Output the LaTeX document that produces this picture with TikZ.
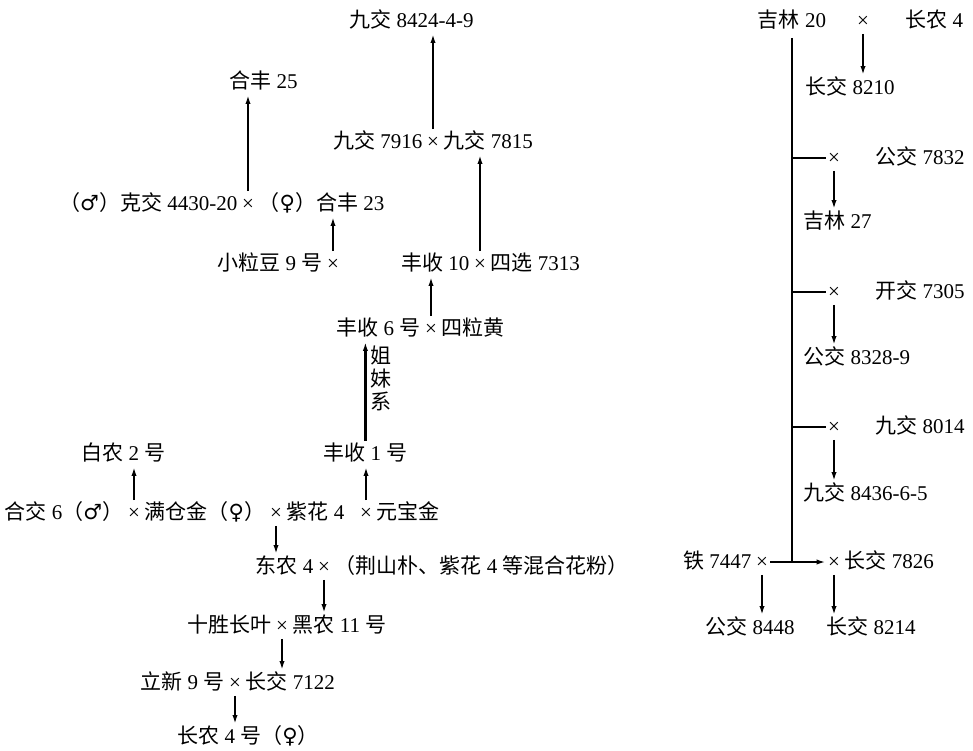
\documentclass[tikz,border=0pt]{standalone}
\usepackage{fontspec}
\setmainfont{Liberation Serif}
\newfontfamily\zhfont{Noto Sans CJK SC}
\newfontfamily\symfont{DejaVu Sans}
\usetikzlibrary{arrows.meta,positioning}
\tikzset{>={Latex[length=4.5pt,width=2.6pt]},every node/.style={font=\fontsize{10.5}{11.5}\selectfont,inner sep=1pt,text height=8.5pt,text depth=2pt},gen/.style={line width=1.1pt,->},bar/.style={line width=1.1pt}}
\newcommand{\zh}[1]{{\zhfont #1}}
\newcommand{\sexm}{{\symfont ♂}}
\newcommand{\sexf}{{\symfont ♀}}

\begin{document}
\begin{tikzpicture}[x=.5pt,y=-.5pt]
\useasboundingbox (0,0) rectangle (973,750);
% left pedigree, upper part (arrows up)
\node[anchor=west] (jj8424) at (347,21) {\zh{九交} 8424-4-9};
\node[anchor=west] (hf25) at (227,82) {\zh{合丰} 25};
\node (c1) at (433,142) {×};\node[left=0pt of c1] (jj7916) {\zh{九交} 7916};\node[right=0pt of c1] (jj7815) {\zh{九交} 7815};
\node (c2) at (248,204) {×};\node[left=0pt of c2] (kj4430) {\zh{（}\sexm\zh{）克交} 4430-20};\node[right=0pt of c2] (hf23) {\zh{（}\sexf\zh{）合丰} 23};
\node (c3) at (333,264) {×};\node[left=0pt of c3] (xld9) {\zh{小粒豆} 9 \zh{号}};
\node (c4) at (480,264) {×};\node[left=0pt of c4] (fs10) {\zh{丰收} 10};\node[right=0pt of c4] (sx7313) {\zh{四选} 7313};
\node (c5) at (431,329) {×};\node[left=0pt of c5] (fs6) {\zh{丰收} 6 \zh{号}};\node[right=0pt of c5] (slh) {\zh{四粒黄}};
\node[font=\fontsize{10.5}{11.5}\selectfont\zhfont,align=center,text height={},text depth={}] (jmx) at (381,378) {姐\\妹\\系};
\node[anchor=west] (bn2) at (79,454) {\zh{白农} 2 \zh{号}};
\node[anchor=west] (fs1) at (321,454) {\zh{丰收} 1 \zh{号}};
\node (c6) at (134,513) {×};\node (c7) at (276,513) {×};\node (c8) at (366,513) {×};
\node[left=0pt of c6] (hj6) {\zh{合交} 6\zh{（}\sexm\zh{）}};
\node[right=0pt of c6] (mcj) {\zh{满仓金（}\sexf\zh{）}};
\node[right=0pt of c7] (zh4) {\zh{紫花} 4};
\node[right=0pt of c8] (ybj) {\zh{元宝金}};
% lower part (arrows down)
\node (c9) at (324,567) {×};\node[left=0pt of c9] (dn4) {\zh{东农} 4};\node[right=0pt of c9] (hhfb) {\zh{（荆山朴、紫花} 4 \zh{等混合花粉）}};
\node (c10) at (282,626) {×};\node[left=0pt of c10] (sscy) {\zh{十胜长叶}};\node[right=0pt of c10] (hn11) {\zh{黑农} 11 \zh{号}};
\node (c11) at (235,683) {×};\node[left=0pt of c11] (lx9) {\zh{立新} 9 \zh{号}};\node[right=0pt of c11] (cj7122) {\zh{长交} 7122};
\node[anchor=west] (cn4) at (175,737) {\zh{长农} 4 \zh{号（}\sexf\zh{）}};
\foreach \c/\t in {c1/jj8424,c2/hf25,c3/hf23,c4/jj7815,c5/fs10,c6/bn2,c8/fs1} \draw[gen] (\c.north) -- (\c.north |- \t.south);
\draw[gen] (fs1.north) -- (fs1.north |- fs6.south);
\foreach \c/\t in {c7/dn4,c9/hn11,c10/cj7122,c11/cn4} \draw[gen] (\c.south) -- (\c.south |- \t.north);
% right pedigree
\node (jl20) at (792,21) {\zh{吉林} 20};
\node (c12) at (863,21) {×};\node[anchor=west] (cn4b) at (903,21) {\zh{长农} 4};
\node[anchor=west] (cj8210) at (803,88) {\zh{长交} 8210};
\node (c13) at (834,158) {×};\node[anchor=west] (gj7832) at (873,158) {\zh{公交} 7832};
\node[anchor=west] (jl27) at (801,222) {\zh{吉林} 27};
\node (c14) at (834,292) {×};\node[anchor=west] (kj7305) at (873,292) {\zh{开交} 7305};
\node[anchor=west] (gj8328) at (801,358) {\zh{公交} 8328-9};
\node (c15) at (834,427) {×};\node[anchor=west] (jj8014) at (873,427) {\zh{九交} 8014};
\node[anchor=west] (jj8436) at (801,494) {\zh{九交} 8436-6-5};
\node (c16) at (762,562) {×};\node[left=0pt of c16] (t7447) {\zh{铁} 7447};
\node (c17) at (834,562) {×};\node[right=0pt of c17] (cj7826) {\zh{长交} 7826};
\node[anchor=west] (gj8448) at (703,628) {\zh{公交} 8448};
\node[anchor=west] (cj8214) at (824,628) {\zh{长交} 8214};
\draw[bar] ([yshift=-2pt]jl20.south) -- (jl20.south |- c16.center);
\foreach \c in {c13,c14,c15} \draw[bar] (jl20.south |- \c.center) -- (\c.west);
\draw[gen] (c16.east) -- (c17.west);
\foreach \c/\t in {c12/cj8210,c13/jl27,c14/gj8328,c15/jj8436,c16/gj8448,c17/cj8214} \draw[gen] (\c.south) -- (\c.south |- \t.north);
\end{tikzpicture}
\end{document}
